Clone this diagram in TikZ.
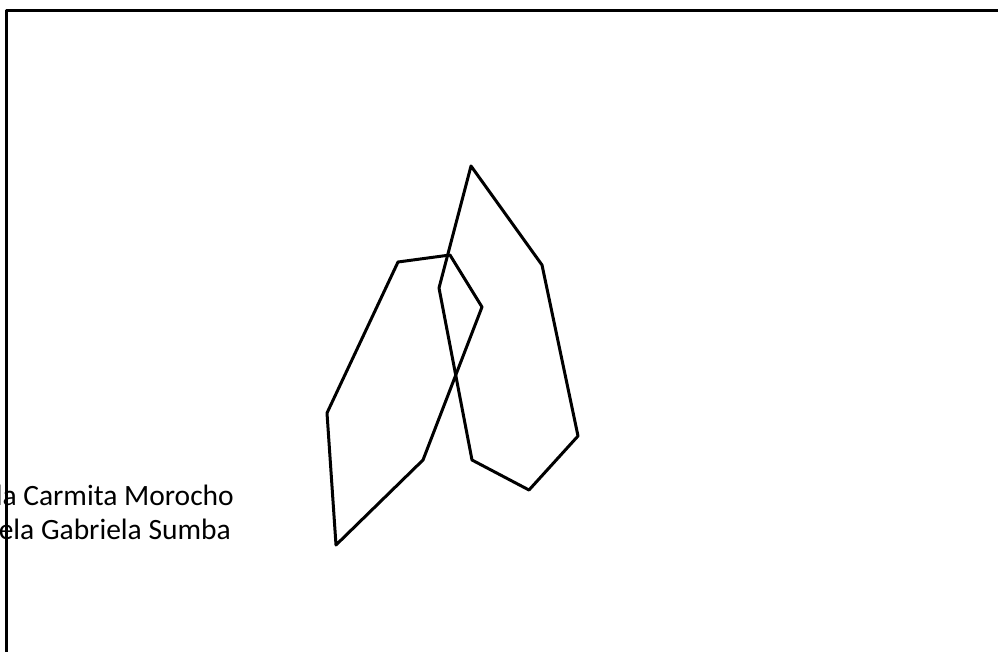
\documentclass[tikz,border=0pt]{standalone}
\usepackage{fontspec}
\setmainfont{Carlito}
\begin{document}
\begin{tikzpicture}[x=1pt,y=-1pt,line join=round,line cap=round]
\tikzset{
  stroke/.style={line width=3pt},
  frame/.style={line width=3pt,line cap=butt},
  caption/.style={font=\fontsize{29.5}{35}\selectfont,inner sep=0pt,anchor=base east}
}
\useasboundingbox (0,0) rectangle (998,652);
\clip (0,0) rectangle (998,652);
% text (partly cut by the frame, as in the reference)
\node[caption] (t1) at (234,505) {da Carmita Morocho};
\node[caption] (t2) at (231,539) {ela Gabriela Sumba};
% frame: top and left edges
\coordinate (fa) at (6,10.5);
\coordinate (fb) at (998,10.5);
\coordinate (fc) at (6,652);
\draw[frame] (fc) -- (fa) -- (fb);
% left polygon
\coordinate (a1) at (398,262);
\coordinate (a2) at (450,255);
\coordinate (a3) at (482,307);
\coordinate (a4) at (423,460);
\coordinate (a5) at (336,545);
\coordinate (a6) at (327,413);
\draw[stroke] (a1) -- (a2) -- (a3) -- (a4) -- (a5) -- (a6) -- cycle;
% right polygon
\coordinate (b1) at (471,166);
\coordinate (b2) at (542,265);
\coordinate (b3) at (578,436);
\coordinate (b4) at (529,490);
\coordinate (b5) at (472,460);
\coordinate (b6) at (439,288);
\draw[stroke] (b1) -- (b2) -- (b3) -- (b4) -- (b5) -- (b6) -- cycle;
\end{tikzpicture}
\end{document}
